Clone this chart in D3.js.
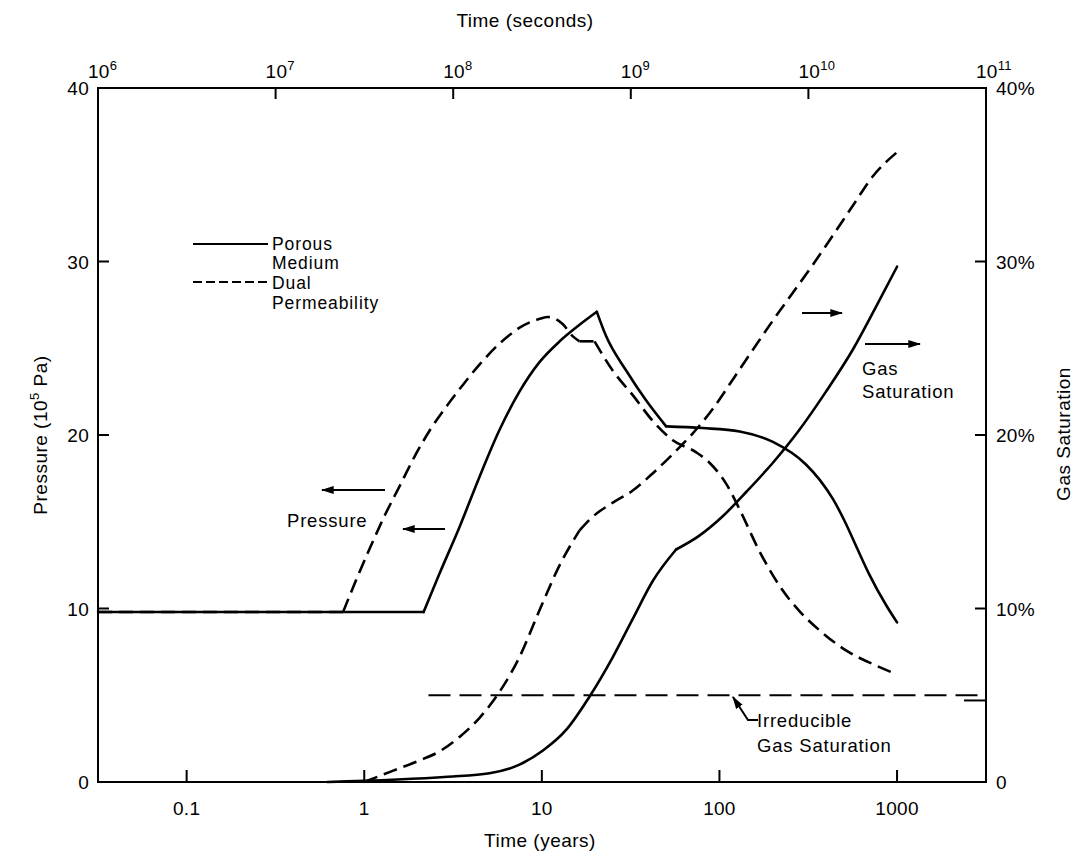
<!DOCTYPE html>
<head>
  <meta charset="utf-8">
  <script src="https://d3js.org/d3.v7.min.js"></script>
  <style>
    body { margin: 0; background: #fff; }
    svg { font-family: "Liberation Sans", Arial, sans-serif; }
  </style>
</head>
<body>
  <svg width="1080" height="856"></svg>
  <script>
    // values: [years, value]
    var porousPressure = [
      [0.0317, 9.8], [2.16, 9.8], [2.65, 12.0], [3.44, 14.7], [4.46, 17.6], [5.78, 20.3],
      [7.48, 22.5], [9.70, 24.2], [12.6, 25.4], [16.3, 26.35], [20.4, 27.1], [23.0, 25.7],
      [29.9, 23.7], [38.6, 22.0], [50.1, 20.5], [80.5, 20.4], [130, 20.2], [200, 19.6],
      [307, 18.3], [368, 17.4], [436, 16.3], [509, 15.0], [594, 13.5], [695, 12.0],
      [867, 10.2], [1000, 9.2]
    ];
    var porousBreaks = [2.16, 20.4, 50.1];

    var dualPressure = [
      [0.0317, 9.8], [0.76, 9.8], [0.888, 11.5], [1.078, 13.5], [1.31, 15.4], [1.59, 17.1],
      [1.93, 18.8], [2.35, 20.3], [2.93, 21.7], [3.60, 22.9], [4.49, 24.1], [5.82, 25.3],
      [7.54, 26.2], [9.77, 26.7], [10.8, 26.8], [13.1, 26.4], [14.9, 25.7], [16.3, 25.4],
      [19.8, 25.4], [25.1, 23.7], [32.5, 22.3], [42.2, 20.8], [54.6, 19.7], [74.0, 19.0],
      [87.9, 18.4], [109, 17.2], [130, 15.7], [168, 13.3], [218, 11.3], [282, 9.85],
      [380, 8.6], [513, 7.6], [729, 6.8], [1000, 6.2]
    ];
    var dualBreaks = [0.76, 16.3, 19.8];

    var porousGas = [
      [0.62, 0], [2.95, 0.3], [5.07, 0.5], [7.48, 1.0], [10.1, 1.8], [13.7, 3.0],
      [18.5, 4.9], [25.1, 7.2], [32.5, 9.4], [42.2, 11.6], [57.0, 13.4], [77.1, 14.2],
      [104, 15.3], [141, 16.7], [200, 18.4], [282, 20.3], [398, 22.5], [562, 24.9],
      [762, 27.4], [1000, 29.7]
    ];
    var porousGasBreaks = [57.0];
    var dualGas = [
      [1.0, 0], [1.41, 0.6], [2.0, 1.2], [2.69, 1.8], [3.44, 2.6], [4.46, 3.7],
      [5.78, 5.2], [7.48, 7.2], [9.70, 9.9], [12.6, 12.5], [16.3, 14.5], [19.4, 15.3],
      [25.1, 16.1], [32.5, 16.8], [42.2, 17.8], [54.6, 18.9], [70.8, 20.1], [91.6, 21.5],
      [119, 23.2], [154, 24.9], [200, 26.6], [259, 28.2], [335, 29.8], [435, 31.5],
      [562, 33.2], [729, 34.9], [1000, 36.3]
    ];
    var dualGasBreaks = [16.3];
    var irreducible = [[2.3, 5.0], [3169, 5.0]];

    var yearTicks = [0.1, 1, 10, 100, 1000];
    var secondTicks = [1e6, 1e7, 1e8, 1e9, 1e10, 1e11];
    var pressureTicks = [0, 10, 20, 30, 40];
    var gasTicks = [0, 10, 20, 30, 40];
    var gasMinorTick = [4.7];
    var secPerYear = 3.156e7;

    var margin = { top: 88, bottom: 74, left: 98, right: 94 };
    var width = 1080, height = 856;
    var svg = d3.select('svg');

    var xSec = d3.scaleLog().domain([1e6, 1e11]).range([margin.left, width - margin.right]);
    var xScale = d3.scaleLog()
      .domain([1e6 / secPerYear, 1e11 / secPerYear])
      .range([margin.left, width - margin.right]);
    var yScale = d3.scaleLinear().domain([0, 40]).range([height - margin.bottom, margin.top]);

    var x0 = margin.left, x1 = width - margin.right, y0 = height - margin.bottom, y1 = margin.top;

    // frame
    svg.append('rect')
      .attr('x', x0).attr('y', y1).attr('width', x1 - x0).attr('height', y0 - y1)
      .attr('fill', 'none').attr('stroke', '#000').attr('stroke-width', 2);

    // inward ticks
    var ticks = svg.append('g').attr('stroke', '#000').attr('stroke-width', 2);
    yearTicks.forEach(function (t) {
      ticks.append('line').attr('x1', xScale(t)).attr('x2', xScale(t)).attr('y1', y0).attr('y2', y0 - 12);
    });
    secondTicks.slice(1, -1).forEach(function (t) {
      ticks.append('line').attr('x1', xSec(t)).attr('x2', xSec(t)).attr('y1', y1).attr('y2', y1 + 11);
    });
    pressureTicks.slice(1, -1).forEach(function (t) {
      ticks.append('line').attr('x1', x0).attr('x2', x0 + 11).attr('y1', yScale(t)).attr('y2', yScale(t));
    });
    gasTicks.slice(1, -1).forEach(function (t) {
      ticks.append('line').attr('x1', x1).attr('x2', x1 - 11).attr('y1', yScale(t)).attr('y2', yScale(t));
    });
    gasMinorTick.forEach(function (t) {
      ticks.append('line').attr('x1', x1).attr('x2', x1 - 22).attr('y1', yScale(t)).attr('y2', yScale(t));
    });

    // tick labels
    var lab = svg.append('g').attr('font-size', 19).attr('letter-spacing', 0.3).attr('fill', '#000');
    yearTicks.forEach(function (t) {
      lab.append('text').attr('x', xScale(t)).attr('y', y0 + 33)
        .attr('text-anchor', 'middle').text(t);
    });
    secondTicks.forEach(function (t) {
      var tx = lab.append('text').attr('x', xSec(t) - 10).attr('y', y1 - 10);
      tx.append('tspan').text('10');
      tx.append('tspan').attr('font-size', 13).attr('dy', -8).text(Math.round(Math.log10(t)));
    });
    pressureTicks.forEach(function (t) {
      lab.append('text').attr('x', x0 - 9).attr('y', yScale(t) + 7)
        .attr('text-anchor', 'end').text(t);
    });
    gasTicks.forEach(function (t) {
      lab.append('text').attr('x', x1 + 10).attr('y', yScale(t) + 7)
        .text(t === 0 ? '0' : t + '%');
    });

    // axis titles
    var ttl = svg.append('g').attr('font-size', 19).attr('letter-spacing', 0.5).attr('fill', '#000');
    ttl.append('text').attr('x', 525).attr('y', 27).attr('text-anchor', 'middle').text('Time (seconds)');
    ttl.append('text').attr('x', 540).attr('y', 847).attr('text-anchor', 'middle').text('Time (years)');
    var pl = ttl.append('text').attr('transform', 'translate(47,435) rotate(-90)')
      .attr('text-anchor', 'middle');
    pl.append('tspan').text('Pressure (10');
    pl.append('tspan').attr('font-size', 13).attr('dy', -8).text('5');
    pl.append('tspan').attr('dy', 8).text(' Pa)');
    ttl.append('text').attr('transform', 'translate(1070,434) rotate(-90)')
      .attr('text-anchor', 'middle').text('Gas Saturation');

    // curves, split at the sharp corners so each piece stays smooth
    function pieces(data, breaks) {
      var out = [], cur = [];
      data.forEach(function (d) {
        cur.push(d);
        if (breaks.indexOf(d[0]) >= 0) { out.push(cur); cur = [d]; }
      });
      out.push(cur);
      return out;
    }
    var smooth = d3.line().curve(d3.curveMonotoneX)
      .x(function (d) { return xScale(d[0]); }).y(function (d) { return yScale(d[1]); });

    var curves = svg.append('g').attr('fill', 'none').attr('stroke', '#000')
      .attr('stroke-width', 2.6).attr('stroke-linejoin', 'round').attr('stroke-linecap', 'round');
    pieces(porousPressure, porousBreaks).forEach(function (p) {
      curves.append('path').attr('d', smooth(p));
    });
    pieces(dualPressure, dualBreaks).forEach(function (p) {
      curves.append('path').attr('d', smooth(p)).attr('stroke-dasharray', '14,7')
        .attr('stroke-linecap', 'butt');
    });
    pieces(porousGas, porousGasBreaks).forEach(function (p) {
      curves.append('path').attr('d', smooth(p));
    });
    pieces(dualGas, dualGasBreaks).forEach(function (p) {
      curves.append('path').attr('d', smooth(p)).attr('stroke-dasharray', '14,7')
        .attr('stroke-linecap', 'butt');
    });
    curves.append('path').attr('d', smooth(irreducible)).attr('stroke-width', 2.2)
      .attr('stroke-linecap', 'butt').attr('stroke-dasharray', '22,9');

    // arrows
    svg.append('defs').append('marker')
      .attr('id', 'head').attr('viewBox', '0 0 10 6').attr('refX', 9).attr('refY', 3)
      .attr('markerWidth', 13).attr('markerHeight', 8).attr('markerUnits', 'userSpaceOnUse')
      .attr('orient', 'auto')
      .append('path').attr('d', 'M0,0 L10,3 L0,6 Z').attr('fill', '#000');

    var arrows = [
      [385, 490, 322, 490], [445, 529, 403, 529],
      [802, 313, 842, 313], [865, 344, 920, 344]
    ];
    arrows.forEach(function (a) {
      svg.append('line').attr('x1', a[0]).attr('y1', a[1]).attr('x2', a[2]).attr('y2', a[3])
        .attr('stroke', '#000').attr('stroke-width', 2).attr('marker-end', 'url(#head)');
    });
    svg.append('path').attr('d', 'M758,720 L748,720 L733,697')
      .attr('fill', 'none').attr('stroke', '#000').attr('stroke-width', 2)
      .attr('marker-end', 'url(#head)');

    var ann = svg.append('g').attr('font-size', 18.5).attr('letter-spacing', 0.8).attr('fill', '#000');
    ann.append('text').attr('x', 287).attr('y', 527).text('Pressure');
    ann.append('text').attr('x', 862).attr('y', 375).text('Gas');
    ann.append('text').attr('x', 862).attr('y', 398).text('Saturation');
    ann.append('text').attr('x', 757).attr('y', 727).text('Irreducible');
    ann.append('text').attr('x', 757).attr('y', 752).text('Gas Saturation');

    // legend
    svg.append('line').attr('x1', 193).attr('x2', 268).attr('y1', 244).attr('y2', 244)
      .attr('stroke', '#000').attr('stroke-width', 2);
    svg.append('line').attr('x1', 193).attr('x2', 268).attr('y1', 282).attr('y2', 282)
      .attr('stroke', '#000').attr('stroke-width', 2).attr('stroke-dasharray', '9,4');
    var leg = svg.append('g').attr('font-size', 17.5).attr('letter-spacing', 0.9).attr('fill', '#000');
    leg.append('text').attr('x', 272).attr('y', 250).text('Porous');
    leg.append('text').attr('x', 272).attr('y', 269).text('Medium');
    leg.append('text').attr('x', 272).attr('y', 289).text('Dual');
    leg.append('text').attr('x', 272).attr('y', 309).text('Permeability');
  </script>
</body>
